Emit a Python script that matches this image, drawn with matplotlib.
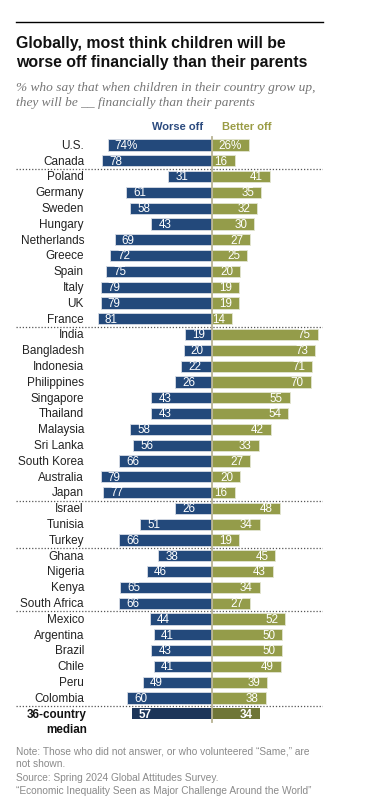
import matplotlib
matplotlib.use("Agg")
import matplotlib.pyplot as plt
from matplotlib.lines import Line2D
import matplotlib.font_manager as fm

countries = ["U.S.", "Canada", "Poland", "Germany", "Sweden", "Hungary", "Netherlands",
             "Greece", "Spain", "Italy", "UK", "France", "India", "Bangladesh", "Indonesia",
             "Philippines", "Singapore", "Thailand", "Malaysia", "Sri Lanka", "South Korea",
             "Australia", "Japan", "Israel", "Tunisia", "Turkey", "Ghana", "Nigeria", "Kenya",
             "South Africa", "Mexico", "Argentina", "Brazil", "Chile", "Peru", "Colombia"]
worse_off = [74, 78, 31, 61, 58, 43, 69, 72, 75, 79, 79, 81, 19, 20, 22, 26, 43, 43, 58, 56,
             66, 79, 77, 26, 51, 66, 38, 46, 65, 66, 44, 41, 43, 41, 49, 60]
better_off = [26, 16, 41, 35, 32, 30, 27, 25, 20, 19, 19, 14, 75, 73, 71, 70, 55, 54, 42, 33,
              27, 20, 16, 48, 34, 19, 45, 43, 34, 27, 52, 50, 50, 49, 39, 38]
median_label = ["36-country", "median"]
median_worse = 57
median_better = 34
group_breaks = [1.5, 11.5, 22.5, 25.5, 29.5, 35.5]

title = "Globally, most think children will be\nworse off financially than their parents"
subtitle = "% who say that when children in their country grow up,\nthey will be __ financially than their parents"
notes = ["Note: Those who did not answer, or who volunteered \u201cSame,\u201d are",
         "not shown.",
         "Source: Spring 2024 Global Attitudes Survey.",
         "\u201cEconomic Inequality Seen as Major Challenge Around the World\u201d"]

names = {f.name for f in fm.fontManager.ttflist}
sans = "Liberation Sans Narrow" if "Liberation Sans Narrow" in names else "Liberation Sans"
plt.rcParams['font.family'] = [sans, 'DejaVu Sans']
NUMFONT = ["Liberation Sans", "DejaVu Sans"]

W, H = 375, 801
fig = plt.figure(figsize=(W / 100, H / 100), dpi=100)
fig.patch.set_facecolor("white")

NAVY = "#23497b"
OLIVE = "#949c4a"
NAVY_D = "#1c3559"
OLIVE_D = "#6f7637"

# axes geometry in pixels
px_per_unit = 1.41
x0 = 212
left_px, right_px = 16, 323
row0, row_step = 145, 15.8
n_rows = 37
top_px = row0 - 0.7 * row_step
bot_px = row0 + (n_rows - 1 + 0.7) * row_step

ax = fig.add_axes([left_px / W, 1 - bot_px / H, (right_px - left_px) / W, (bot_px - top_px) / H])
ax.set_xlim((left_px - x0) / px_per_unit, (right_px - x0) / px_per_unit)
ax.set_ylim(n_rows - 1 + 0.7, -0.7)
ax.axis("off")

ys = list(range(len(countries)))
bh = 0.70
ax.barh(ys, [-v for v in worse_off], height=bh, color=NAVY, edgecolor="#d8dde6", linewidth=0.6)
ax.barh(ys, better_off, height=bh, color=OLIVE, edgecolor="#e3e5d2", linewidth=0.6)
my = len(countries)
ax.barh([my], [-median_worse], height=bh, color=NAVY_D, edgecolor="none")
ax.barh([my], [median_better], height=bh, color=OLIVE_D, edgecolor="none")

padl = 7 / px_per_unit
padr = 7 / px_per_unit
fs_val = 8.4
for i, (c, w, b) in enumerate(zip(countries, worse_off, better_off)):
    ax.text(-w + padl, i + 0.05, f"{w}%" if i == 0 else f"{w}", color="white", fontsize=fs_val,
            ha="left", va="center", family=NUMFONT)
    ax.text(b - padr, i + 0.05, f"{b}%" if i == 0 else f"{b}", color="white", fontsize=fs_val,
            ha="right", va="center", family=NUMFONT)
    ax.text((84 - x0) / px_per_unit, i + 0.05, c, color="#222222", fontsize=8.5,
            ha="right", va="center")

ax.text(-median_worse + padl, my + 0.05, f"{median_worse}", color="white", fontsize=fs_val,
        ha="left", va="center", fontweight="bold", family=NUMFONT)
ax.text(median_better - padr, my + 0.05, f"{median_better}", color="white", fontsize=fs_val,
        ha="right", va="center", fontweight="bold", family=NUMFONT)
ax.text((87 - x0) / px_per_unit, my + 0.05, median_label[0], color="#111111", fontsize=8.4,
        ha="right", va="center", fontweight="bold")
ax.text((87 - x0) / px_per_unit, my + 0.05 + 15 / row_step, median_label[1], color="#111111",
        fontsize=8.4, ha="right", va="center", fontweight="bold", clip_on=False)

for yb in group_breaks:
    ax.axhline(yb, color="#555555", linestyle=(0, (1, 1.5)), linewidth=0.9)
ax.axvline(0, color="#b8b393", linewidth=1.3, ymin=0.005, ymax=0.995)

# top rule
fig.add_artist(Line2D([16 / W, 323 / W], [1 - 22 / H, 1 - 22 / H], color="black", linewidth=1.0))

fig.text(16 / W, 1 - 36 / H, title, fontsize=11.4, fontweight="bold", color="#111111",
         ha="left", va="top", linespacing=1.33)
fig.text(16 / W, 1 - 82.5 / H, subtitle, fontsize=9.6, fontstyle="italic", color="#757575",
         family=["Liberation Serif", "DejaVu Serif"], ha="left", va="top", linespacing=1.3)

fig.text(178 / W, 1 - 127.5 / H, "Worse off", fontsize=8.0, fontweight="bold", color="#2b4a7e",
         ha="center", va="center")
fig.text(247 / W, 1 - 127.5 / H, "Better off", fontsize=8.0, fontweight="bold", color="#9a9c45",
         ha="center", va="center")

for k, line in enumerate(notes):
    fig.text(16 / W, 1 - (751 + k * 13.3) / H, line, fontsize=7.3, color="#8a8a8a",
             ha="left", va="center")

fig.savefig("out.png", dpi=100, facecolor="white")
